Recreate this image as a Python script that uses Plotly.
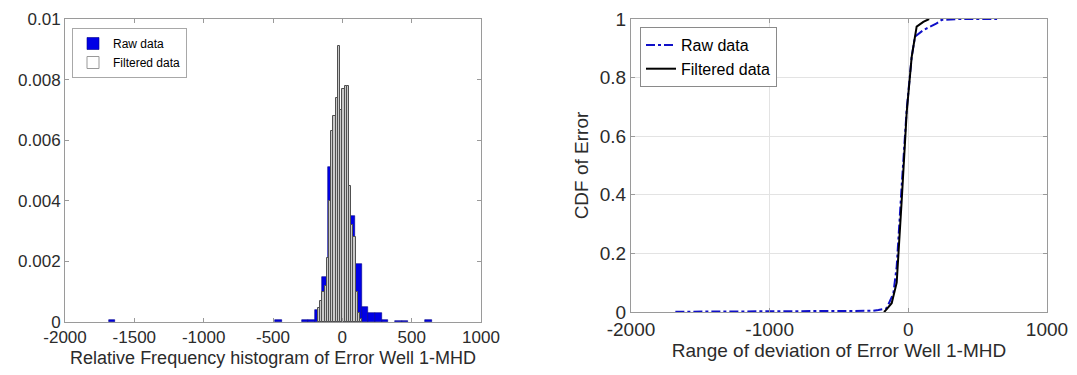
import plotly.graph_objects as go

# ---------- Histogram data (relative frequency) ----------
raw_centers = [-1661, -461, -269, -221, -173, -125, -77, -29, 19, 67, 115, 163, 211, 259, 307, 403, 451, 619]
raw_values = [0.00005, 0.00005, 0.00007, 0.00007, 0.0004, 0.00147, 0.0051, 0.0045, 0.0056, 0.0035,
              0.0019, 0.0005, 0.0003, 0.0003, 0.00005, 0.00004, 0.00004, 0.00007]
raw_width = 48

filt_centers = [-168, -152, -136, -120, -104, -88, -72, -56, -40, -24, -8, 8, 24, 40, 56, 72, 88, 104, 120, 136]
filt_values = [0.00045, 0.0007, 0.001, 0.0012, 0.0021, 0.0040, 0.0063, 0.0068, 0.0074, 0.0091,
               0.0070, 0.0077, 0.0078, 0.0078, 0.0045, 0.0032, 0.0028, 0.0010, 0.0003, 0.0001]
filt_width = 16

# ---------- CDF data ----------
raw_cdf_x = [-1680, -470, -260, -216, -156, -108, -84, -48, -12, 24, 48, 108, 156, 204, 240, 372, 640]
raw_cdf_y = [0.001, 0.002, 0.004, 0.007, 0.0125, 0.064, 0.155, 0.43, 0.69, 0.87, 0.94, 0.962, 0.974,
             0.985, 0.997, 1.0, 1.0]
filt_cdf_x = [-176, -168, -120, -84, -48, -12, 24, 60, 108, 150]
filt_cdf_y = [0.0, 0.003, 0.03, 0.1, 0.38, 0.68, 0.87, 0.974, 0.99, 1.0]

hist_xticks = [-2000, -1500, -1000, -500, 0, 500, 1000]
hist_xticktext = ["-2000", "-1500", "-1000", "-500", "0", "500", "1000"]
hist_yticks = [0, 0.002, 0.004, 0.006, 0.008, 0.01]
hist_yticktext = ["0", "0.002", "0.004", "0.006", "0.008", "0.01"]
cdf_xticks = [-2000, -1000, 0, 1000]
cdf_xticktext = ["-2000", "-1000", "0", "1000"]
cdf_yticks = [0, 0.2, 0.4, 0.6, 0.8, 1]
cdf_yticktext = ["0", "0.2", "0.4", "0.6", "0.8", "1"]

W, H = 1077, 375
FONT = "Liberation Sans, Arial, sans-serif"
TXT = "#2b2b2b"
AX = "#9a9a9a"

fig = go.Figure()

fig.add_trace(go.Bar(x=raw_centers, y=raw_values, width=raw_width, name="Raw data",
                     marker=dict(color="#0000e6", line=dict(color="#00008a", width=0.6)),
                     xaxis="x", yaxis="y", legend="legend"))
fig.add_trace(go.Bar(x=filt_centers, y=filt_values, width=filt_width, name="Filtered data",
                     marker=dict(color="#c9c9c9", line=dict(color="#505050", width=1)),
                     xaxis="x", yaxis="y", showlegend=False))
# legend entry for filtered (white face, as in the reference legend)
fig.add_trace(go.Bar(x=[None], y=[None], name="Filtered data",
                     marker=dict(color="white", line=dict(color="#999999", width=1)),
                     xaxis="x", yaxis="y", legend="legend"))

fig.add_trace(go.Scatter(x=raw_cdf_x, y=raw_cdf_y, mode="lines", name="Raw data",
                         line=dict(color="#1010c8", width=2, dash="dashdot"),
                         xaxis="x2", yaxis="y2", legend="legend2"))
fig.add_trace(go.Scatter(x=filt_cdf_x, y=filt_cdf_y, mode="lines", name="Filtered data",
                         line=dict(color="black", width=2),
                         xaxis="x2", yaxis="y2", legend="legend2"))

axis_common = dict(showline=True, linecolor=AX, linewidth=1, mirror="ticks", ticks="inside",
                   ticklen=4, tickcolor=AX, zeroline=False, automargin=False,
                   tickfont=dict(family=FONT, size=17, color=TXT))
big_tick = dict(family=FONT, size=19, color=TXT)

fig.update_layout(
    width=W, height=H,
    margin=dict(l=0, r=0, t=0, b=0),
    paper_bgcolor="white", plot_bgcolor="white",
    barmode="overlay", bargap=0,
    font=dict(family=FONT, color=TXT),
    xaxis=dict(domain=[65 / W, 481 / W], range=[-2000, 1000], tickvals=hist_xticks,
               ticktext=hist_xticktext, showgrid=False, anchor="y",
               title=dict(text="Relative Frequency histogram of Error Well 1-MHD",
                          font=dict(family=FONT, size=18, color=TXT), standoff=4),
               **axis_common),
    yaxis=dict(domain=[1 - 322 / H, 1 - 19 / H], range=[0, 0.01], tickvals=hist_yticks,
               ticktext=hist_yticktext, showgrid=False, anchor="x", **axis_common),
    xaxis2=dict(domain=[631 / W, 1047 / W], range=[-2000, 1000], tickvals=cdf_xticks,
                ticktext=cdf_xticktext, showgrid=True, gridcolor="#e3e3e3", anchor="y2",
                title=dict(text="Range of deviation of Error Well 1-MHD",
                           font=dict(family=FONT, size=19, color=TXT), standoff=4),
                **{**axis_common, "tickfont": big_tick}),
    yaxis2=dict(domain=[1 - 312 / H, 1 - 19 / H], range=[0, 1], tickvals=cdf_yticks,
                ticktext=cdf_yticktext, showgrid=True, gridcolor="#e3e3e3", anchor="x2",
                title=dict(text="CDF of Error", font=dict(family=FONT, size=19, color=TXT), standoff=6),
                **{**axis_common, "tickfont": big_tick}),
    legend=dict(x=72 / W, y=1 - 28 / H, xanchor="left", yanchor="top",
                bgcolor="white", bordercolor="#a8a8a8", borderwidth=1,
                font=dict(family=FONT, size=12, color="black"), tracegroupgap=0,
                itemwidth=30),
    legend2=dict(x=640 / W, y=1 - 27 / H, xanchor="left", yanchor="top",
                 bgcolor="white", bordercolor="#8a8a8a", borderwidth=1,
                 font=dict(family=FONT, size=16, color="black"), tracegroupgap=0,
                 itemwidth=30),
)

fig.write_html("out.html")
